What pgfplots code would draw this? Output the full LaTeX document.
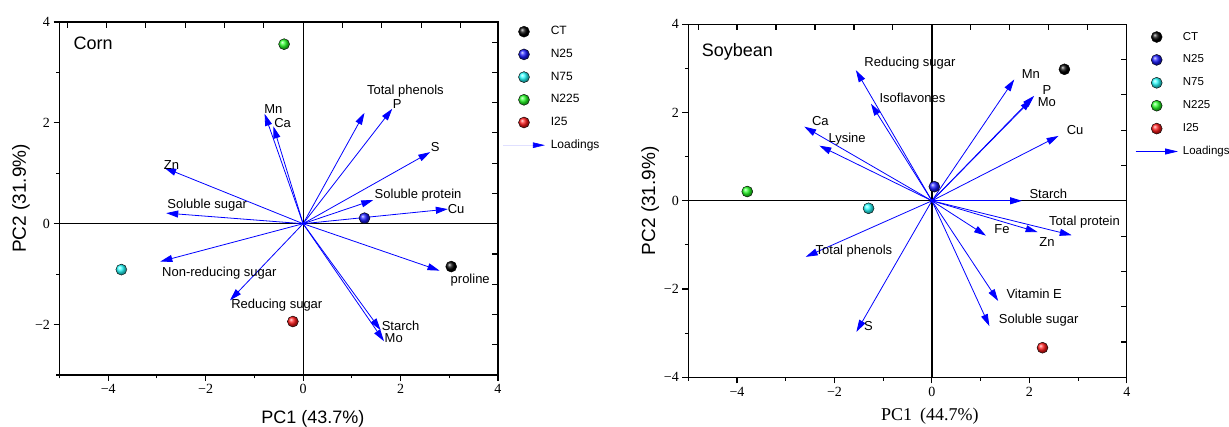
\documentclass[border=0pt]{standalone}
\usepackage{pgfplots}
\pgfplotsset{compat=1.18}
\usepackage{fontspec}
\setmainfont{Liberation Sans}
\newfontfamily\seriffont{Liberation Serif}
\usetikzlibrary{arrows.meta}
\definecolor{lgreen}{rgb}{0.15,1,0.15}
\definecolor{lcyan}{rgb}{0.15,1,1}
\definecolor{lblue}{rgb}{0.1,0.1,1}
\definecolor{lred}{rgb}{1,0.1,0.1}

\pgfplotstableread{
x y u v
0 0 -0.79 2.18
0 0 -0.61 1.93
0 0 -2.85 1.11
0 0 -2.81 0.21
0 0 -2.93 -0.75
0 0 -1.50 -1.52
0 0 1.26 2.20
0 0 1.83 2.28
0 0 2.61 1.42
0 0 1.44 0.47
0 0 2.97 0.29
0 0 2.80 -0.93
0 0 1.59 -2.11
0 0 1.66 -2.33
}\cornload

\pgfplotstableread{
x y u v
0 0 -1.56 2.96
0 0 -1.25 2.20
0 0 -2.62 1.68
0 0 -2.31 1.25
0 0 1.69 2.75
0 0 2.10 2.38
0 0 2.05 2.30
0 0 2.60 1.47
0 0 1.85 0.00
0 0 2.87 -0.78
0 0 2.17 -0.71
0 0 1.11 -0.79
0 0 1.36 -2.27
0 0 1.18 -2.84
0 0 -2.59 -1.27
0 0 -1.55 -2.97
}\soyload

\tikzset{lab/.style={font=\fontsize{13}{15}\selectfont, inner sep=0pt}}

\pgfplotsset{
  base/.style={
    scale only axis, width=438.5pt, height=353pt,
    xmin=-5, xmax=4, clip=false,
    axis line style={line width=1.2pt, black},
    every tick/.style={line width=1.1pt, black},
    major tick length=6pt, minor tick length=3.5pt,
  },
  mainax/.style={
    base,
    tick align=outside, xtick pos=bottom, ytick pos=left,
    xtick={-4,-2,0,2,4}, xticklabels={−4,−2,0,2,4},
    minor xtick={-5,-3,-1,1,3},
    tick label style={font=\seriffont\fontsize{14}{14}\selectfont},
    legend style={draw=none, fill=none, inner sep=0pt, outer sep=0pt,
      font=\fontsize{12}{14}\selectfont, row sep=10.7pt, column sep=5.5pt,
      nodes={inner sep=0pt, text height=9pt, text depth=3pt},
      cells={anchor=west}},
  },
  mirror/.style={
    base, axis x line*=top, axis y line*=right, tick align=inside,
    xticklabels={}, yticklabels={}, minor tick num=0,
  },
  loadarrow/.style={blue, line width=0.8pt, -{Triangle[length=12pt,width=7pt]},
    quiver={u=\thisrow{u}, v=\thisrow{v}}, forget plot},
  ballp/.style={only marks, mark=ball, mark size=5.5pt, mark options={ball color=#1},
    legend image code/.code={\draw[##1] plot coordinates {(21pt,0pt)};}},
}

\begin{document}
\begin{tikzpicture}
\useasboundingbox (0,0) rectangle (1229pt,427pt);

% ---------------- Corn ----------------
\begin{axis}[mainax, at={(59.5pt,52pt)}, anchor=south west,
  ymin=-3, ymax=4,
  ytick={-2,0,2,4}, yticklabels={−2,0,2,4}, minor ytick={-3,-1,1,3},
  xlabel={PC1 (43.7\%)}, ylabel={PC2 (31.9\%)},
  xlabel style={font=\fontsize{18}{18}\selectfont, at={(axis description cs:0.578,-0.125)}, anchor=center},
  ylabel style={font=\fontsize{19}{19}\selectfont, at={(axis description cs:-0.088,0.5)}, anchor=center},
  legend style={at={(1,1)}, anchor=north west, xshift=4.7pt, yshift=-3.7pt},
]
\draw[black, line width=1.2pt] (axis cs:-5,0) -- (axis cs:4,0);
\draw[black, line width=1.2pt] (axis cs:0,-3) -- (axis cs:0,4);
\addplot[loadarrow] table[x=x,y=y] {\cornload};
\addplot[ballp=black] coordinates {(3.04,-0.85)}; \addlegendentry{CT}
\addplot[ballp=lblue] coordinates {(1.26,0.11)}; \addlegendentry{N25}
\addplot[ballp=lcyan] coordinates {(-3.73,-0.91)}; \addlegendentry{N75}
\addplot[ballp=lgreen] coordinates {(-0.39,3.56)}; \addlegendentry{N225}
\addplot[ballp=lred] coordinates {(-0.21,-1.94)}; \addlegendentry{I25}
\addlegendimage{legend image code/.code={
  \draw[blue!12, line width=0.6pt] (0pt,0pt) -- (32pt,0pt);
  \draw[blue, line width=0.6pt, -{Triangle[length=12pt,width=5.5pt]}] (31pt,0pt) -- (42pt,0pt);}}
\addlegendentry{Loadings}
\node[anchor=west, font=\fontsize{18}{18}\selectfont] at (axis description cs:0.024,0.941) {Corn};
\node[lab] at (axis cs:-0.61,2.27) {Mn};
\node[lab] at (axis cs:-0.42,1.99) {Ca};
\node[lab] at (axis cs:-2.70,1.17) {Zn};
\node[lab] at (axis cs:-1.97,0.36) {Soluble sugar};
\node[lab] at (axis cs:-1.72,-0.98) {Non-reducing sugar};
\node[lab] at (axis cs:-0.54,-1.62) {Reducing sugar};
\node[lab] at (axis cs:2.10,2.63) {Total phenols};
\node[lab] at (axis cs:1.93,2.37) {P};
\node[lab] at (axis cs:2.71,1.52) {S};
\node[lab] at (axis cs:2.36,0.56) {Soluble protein};
\node[lab] at (axis cs:3.14,0.30) {Cu};
\node[lab] at (axis cs:3.43,-1.11) {proline};
\node[lab] at (axis cs:2.00,-2.03) {Starch};
\node[lab] at (axis cs:1.86,-2.26) {Mo};
\end{axis}
\begin{axis}[mirror, at={(59.5pt,52pt)}, anchor=south west, ymin=-3, ymax=4,
  xtick={-4.84,-4.035,-3.228,-2.421,-1.614,-0.807,0.807,1.614,2.421,3.228},
  ytick={-2.4,-1.8,-1.2,-0.6,0.6,1.2,1.8,2.4,3.0,3.6}]
\end{axis}

% ---------------- Soybean ----------------
\begin{axis}[mainax, at={(688.3pt,49.7pt)}, anchor=south west,
  ymin=-4, ymax=4,
  ytick={-4,-2,0,2,4}, yticklabels={−4,−2,0,2,4}, minor ytick={-3,-1,1,3},
  xlabel={\seriffont PC1\hspace{0.45em}(44.7\%)}, ylabel={PC2 (31.9\%)},
  xlabel style={font=\fontsize{18}{18}\selectfont, at={(axis description cs:0.551,-0.1115)}, anchor=center},
  ylabel style={font=\fontsize{19}{19}\selectfont, at={(axis description cs:-0.087,0.5)}, anchor=center},
  legend style={at={(1,1)}, anchor=north west, xshift=8.5pt, yshift=-6.7pt, row sep=10.9pt,
    font=\fontsize{11.5}{14}\selectfont, column sep=4.5pt},
]
\draw[black, line width=1.2pt] (axis cs:-5,0) -- (axis cs:4,0);
\draw[black, line width=1.2pt] (axis cs:0,-4) -- (axis cs:0,4);
\addplot[loadarrow] table[x=x,y=y] {\soyload};
\addplot[ballp=black] coordinates {(2.72,2.98)}; \addlegendentry{CT}
\addplot[ballp=lblue] coordinates {(0.05,0.32)}; \addlegendentry{N25}
\addplot[ballp=lcyan] coordinates {(-1.30,-0.17)}; \addlegendentry{N75}
\addplot[ballp=lgreen] coordinates {(-3.79,0.21)}; \addlegendentry{N225}
\addplot[ballp=lred] coordinates {(2.27,-3.33)}; \addlegendentry{I25}
\addlegendimage{legend image code/.code={
  \draw[blue, line width=0.8pt, -{Triangle[length=13pt,width=6pt]}] (0pt,0pt) -- (42.3pt,0pt);}}
\addlegendentry{Loadings}
\node[anchor=west, font=\fontsize{18}{18}\selectfont] at (axis description cs:0.0228,0.9216) {Soybean};
\node[lab] at (axis cs:-0.45,3.11) {Reducing sugar};
\node[lab] at (axis cs:-0.40,2.34) {Isoflavones};
\node[lab] at (axis cs:-2.29,1.81) {Ca};
\node[lab] at (axis cs:-1.74,1.40) {Lysine};
\node[lab] at (axis cs:2.03,2.88) {Mn};
\node[lab] at (axis cs:2.36,2.52) {P};
\node[lab] at (axis cs:2.36,2.24) {Mo};
\node[lab] at (axis cs:2.94,1.60) {Cu};
\node[lab] at (axis cs:2.39,0.16) {Starch};
\node[lab] at (axis cs:3.13,-0.48) {Total protein};
\node[lab] at (axis cs:2.36,-0.93) {Zn};
\node[lab] at (axis cs:1.44,-0.65) {Fe};
\node[lab] at (axis cs:2.10,-2.12) {Vitamin E};
\node[lab] at (axis cs:2.19,-2.70) {Soluble sugar};
\node[lab] at (axis cs:-1.60,-1.14) {Total phenols};
\node[lab] at (axis cs:-1.30,-2.84) {S};
\end{axis}
\begin{axis}[mirror, at={(688.3pt,49.7pt)}, anchor=south west, ymin=-4, ymax=4,
  xtick={-4.8,-4.0,-3.2,-2.4,-1.6,-0.8,0.8,1.6,2.4,3.2},
  ytick={-3.2,-2.4,-1.6,-0.8,0.8,1.6,2.4,3.2}]
\end{axis}
\end{tikzpicture}
\end{document}
